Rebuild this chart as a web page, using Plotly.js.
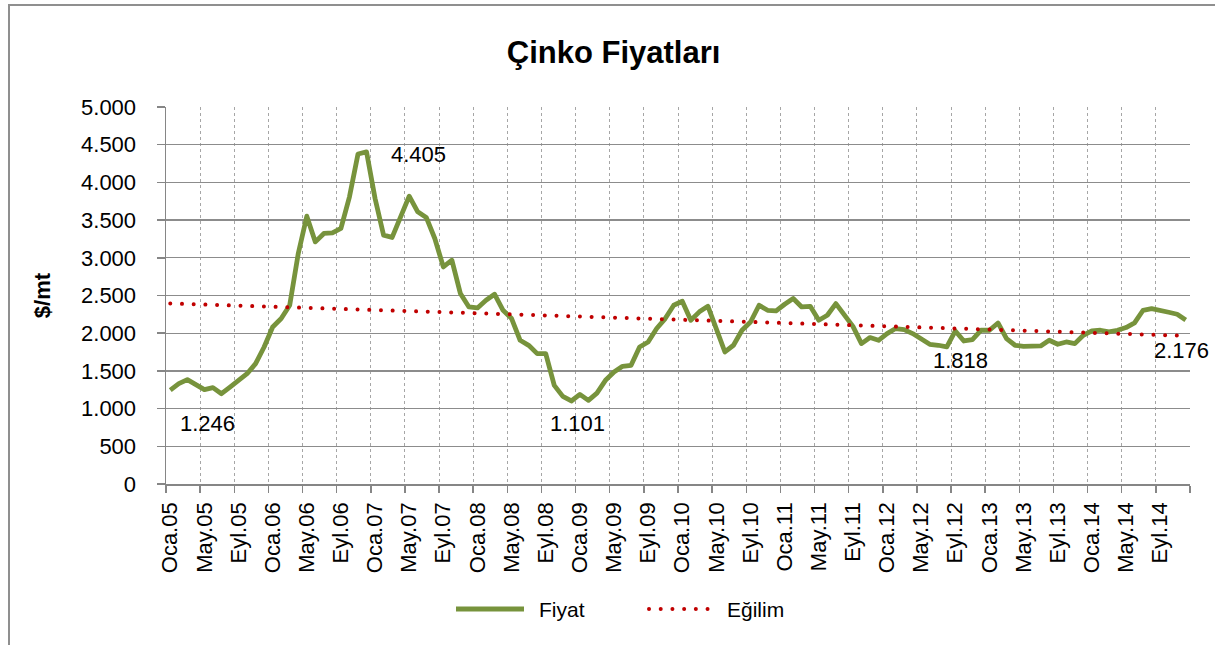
<!DOCTYPE html>
<html>
<head>
<meta charset="utf-8">
<script src="https://cdn.plot.ly/plotly-3.0.1.min.js"></script>
<style>
  html, body { margin: 0; padding: 0; background: #ffffff; overflow: hidden; }
  #frame { position: absolute; left: 8px; top: 4px; width: 1230px; height: 700px; border: 2px solid #8f8f8f; box-sizing: border-box; }
  #chart { position: absolute; left: 0; top: 0; width: 1215px; height: 645px; }
</style>
</head>
<body>
<div id="frame"></div>
<div id="chart"></div>
<script>
// ---- data ----
const months = ['Oca','Şub','Mar','Nis','May','Haz','Tem','Ağu','Eyl','Eki','Kas','Ara'];
const years = ['05','06','07','08','09','10','11','12','13','14'];
const categories = [];
years.forEach(y => months.forEach(m => categories.push(m + '.' + y)));

const fiyat = [
  1246,1331,1384,1308,1251,1278,1198,1286,1375,1463,1596,1817,
  2082,2194,2371,3057,3552,3211,3323,3331,3389,3809,4376,4405,
  3787,3300,3270,3543,3818,3610,3535,3256,2879,2968,2526,2348,
  2335,2437,2517,2304,2194,1906,1839,1729,1729,1308,1162,1101,
  1189,1109,1206,1375,1485,1561,1574,1817,1884,2062,2194,2371,
  2424,2172,2283,2358,2039,1751,1840,2039,2149,2371,2304,2295,
  2384,2460,2348,2357,2172,2238,2393,2250,2090,1862,1942,1906,
  1995,2062,2048,1995,1915,1853,1840,1818,2030,1897,1915,2039,
  2039,2136,1929,1840,1826,1831,1831,1906,1853,1884,1862,1973,
  2030,2039,2017,2039,2075,2136,2304,2327,2295,2278,2251,2176
];
const labelIdx = [0, 23, 47, 91, 119];
const seriesNames = ['Fiyat', 'Eğilim'];

// linear trend (least squares), as the spreadsheet trendline
const n = fiyat.length;
let sx = 0, sy = 0, sxx = 0, sxy = 0;
for (let i = 0; i < n; i++) { sx += i; sy += fiyat[i]; sxx += i * i; sxy += i * fiyat[i]; }
const slope = (n * sxy - sx * sy) / (n * sxx - sx * sx);
const icpt = (sy - slope * sx) / n;
const egilim = fiyat.map((_, i) => icpt + slope * i);

function fmt(v) { return String(Math.round(v)).replace(/\B(?=(\d{3})+(?!\d))/g, '.'); }

const FONT = 'Liberation Sans, Arial, sans-serif';
const GREEN = '#77933C';
const RED = '#C00000';

const traces = [
  { type: 'scatter', mode: 'lines', name: seriesNames[0], x: categories, y: fiyat,
    line: { color: GREEN, width: 4.8 }, hoverinfo: 'x+y' },
  { type: 'scatter', mode: 'lines', name: seriesNames[1], x: categories, y: egilim,
    line: { color: RED, width: 4, dash: '4px,7.7px' }, hoverinfo: 'skip' }
];

const labelOffsets = { 0: [37, -33], 23: [52, -3], 47: [6, -23], 91: [14, -14], 119: [-4, -31] };
const annotations = labelIdx.map(i => ({
  x: categories[i], y: fiyat[i], xref: 'x', yref: 'y', text: fmt(fiyat[i]),
  showarrow: false, xshift: labelOffsets[i][0], yshift: labelOffsets[i][1],
  font: { family: FONT, size: 22, color: '#000' }
}));

// manual legend (paper coords)
const plotL = 166, plotW = 1024, plotB = 484, plotH = 377;
const px = v => (v - plotL) / plotW;
const py = v => (plotB - v) / plotH;
const legY = py(609);
annotations.push({ x: px(537), y: legY, xref: 'paper', yref: 'paper', xanchor: 'left', yanchor: 'middle',
  text: seriesNames[0], showarrow: false, font: { family: FONT, size: 21, color: '#000' } });
annotations.push({ x: px(725), y: legY, xref: 'paper', yref: 'paper', xanchor: 'left', yanchor: 'middle',
  text: seriesNames[1], showarrow: false, font: { family: FONT, size: 21, color: '#000' } });

const shapes = [
  { type: 'line', xref: 'paper', yref: 'paper', x0: px(456), x1: px(524), y0: legY, y1: legY,
    line: { color: GREEN, width: 4.8 } },
  { type: 'line', xref: 'paper', yref: 'paper', x0: px(649), x1: px(712), y0: legY, y1: legY,
    line: { color: RED, width: 4, dash: '4px,7.7px' } }
];

const layout = {
  width: 1215, height: 645,
  margin: { l: 166, r: 25, t: 107, b: 161, pad: 0 },
  paper_bgcolor: 'rgba(0,0,0,0)', plot_bgcolor: '#ffffff',
  separators: ',.',
  showlegend: false,
  font: { family: FONT, color: '#000' },
  title: { text: '<b>Çinko Fiyatları</b>', font: { family: FONT, size: 31, color: '#000' },
           x: 0.505, xref: 'container', xanchor: 'center', y: 1 - 52 / 645, yref: 'container', yanchor: 'middle' },
  xaxis: {
    type: 'category', range: [-0.5, categories.length - 0.5], autorange: false,
    tickson: 'boundaries', tickmode: 'linear', tick0: 0, dtick: 4,
    tickangle: -90, ticks: 'outside', ticklen: 7, tickwidth: 1.5, tickcolor: '#868686',
    showline: true, linecolor: '#868686', linewidth: 1.5,
    showgrid: true, gridcolor: '#a6a6a6', gridwidth: 1, griddash: 'dot',
    tickfont: { family: FONT, size: 22, color: '#000' }, ticklabelstandoff: 8,
    fixedrange: true
  },
  yaxis: {
    range: [0, 5000], autorange: false, tickmode: 'linear', tick0: 0, dtick: 500, tickformat: ',d',
    ticks: 'outside', ticklen: 8, tickwidth: 1.5, tickcolor: '#868686',
    showline: true, linecolor: '#868686', linewidth: 1.5,
    showgrid: true, gridcolor: '#8c8c8c', gridwidth: 1.3, zeroline: false,
    tickfont: { family: FONT, size: 22, color: '#000' }, ticklabelstandoff: 16,
    title: { text: '<b>$/mt</b>', font: { family: FONT, size: 22, color: '#000' }, standoff: 24 },
    fixedrange: true
  },
  annotations: annotations,
  shapes: shapes
};

Plotly.newPlot('chart', traces, layout, { displayModeBar: false, staticPlot: true }).then(gd => {
  gd.querySelectorAll('path').forEach(p => {
    const s = p.style.stroke;
    if (s === 'rgb(192, 0, 0)') {
      p.style.strokeLinecap = 'round';
      p.style.strokeDasharray = '0.01px, 11.7px';
    }
    if (p.classList.contains('js-line')) p.style.strokeLinejoin = 'round';
  });
});
</script>
</body>
</html>
